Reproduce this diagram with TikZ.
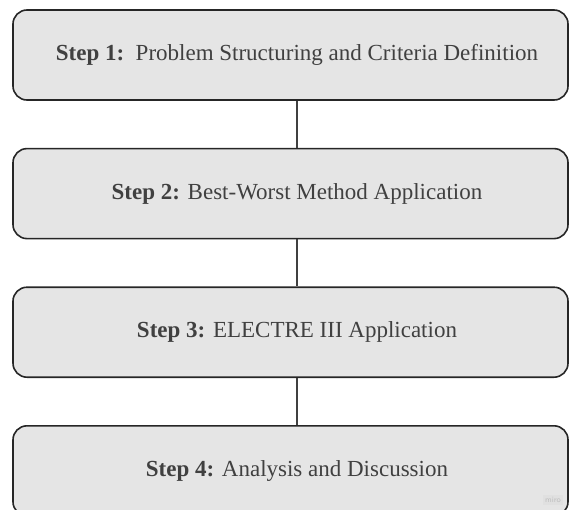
\documentclass[tikz,border=0pt]{standalone}
\usepackage{fontspec}
\setmainfont{Liberation Serif}
\usetikzlibrary{positioning}

\begin{document}
\begin{tikzpicture}[x=1pt, y=1pt, node distance=47pt,
	every node/.style={font=\fontsize{23}{27}\selectfont},
	stepbox/.style={draw=black!85, line width=1.6pt, rounded corners=14pt, fill=black!10, minimum width=555pt, minimum height=90pt, text=black!75},
	link/.style={draw=black!75, line width=1.6pt}]
	\clip (0,0) rectangle (570,-509);
	\node[stepbox] (s1) at (290.5,-55) {\hspace*{13pt}\textbf{Step 1:}\ \ Problem Structuring and Criteria Definition};
	\node[stepbox, below=of s1] (s2) {\hspace*{13pt}\textbf{Step 2:} Best-Worst Method Application};
	\node[stepbox, below=of s2] (s3) {\hspace*{13pt}\textbf{Step 3:} ELECTRE III Application};
	\node[stepbox, below=of s3] (s4) {\hspace*{13pt}\textbf{Step 4:} Analysis and Discussion};
	\draw[link] ([xshift=6.5pt]s1.south) -- ([xshift=6.5pt]s2.north);
	\draw[link] ([xshift=6.5pt]s2.south) -- ([xshift=6.5pt]s3.north);
	\draw[link] ([xshift=6.5pt]s3.south) -- ([xshift=6.5pt]s4.north);
	\node[font=\sffamily\fontsize{8}{9}\selectfont, text=black!25, fill=black!12, inner sep=2pt] (mark) at (553,-500) {miro};
\end{tikzpicture}
\end{document}
